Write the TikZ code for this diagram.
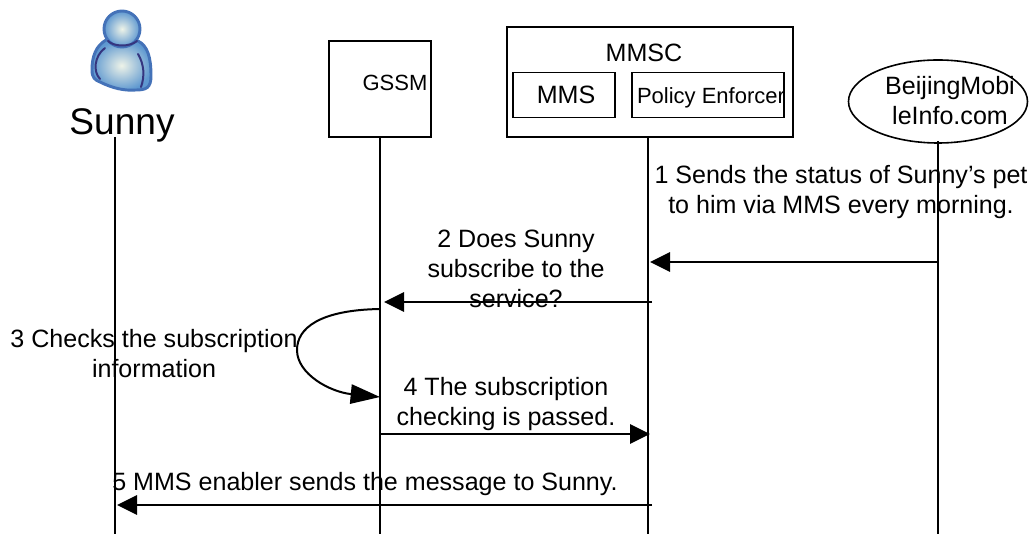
\documentclass[tikz,border=0pt]{standalone}
\usepackage{fontspec}
\setmainfont{Liberation Sans}
\usetikzlibrary{arrows.meta,shapes.geometric}
\definecolor{personedge}{HTML}{4472B8}
\definecolor{personfill}{HTML}{5E98D0}
\definecolor{personglow}{HTML}{EEF3E8}
\definecolor{personline}{HTML}{35357F}
\tikzset{
    lifeline/.style={black, line width=1.5pt},
    msg/.style={black, line width=1.5pt, -{Triangle[length=15pt,width=14.5pt]}},
    actorbox/.style={draw=black, line width=1.2pt, inner sep=0pt},
    lbl/.style={font=\fontsize{18.8pt}{22.5pt}\selectfont, align=center, inner sep=0pt, text=black},
    personpart/.style={draw=personedge, line width=2.2pt, inner color=personglow, outer color=personfill},
    personcrease/.style={draw=personline, line width=1.5pt, line cap=round}
}
\begin{document}
\begin{tikzpicture}[x=0.75pt, y=-0.75pt]
    \useasboundingbox (0,0) rectangle (1029,534);

    \path[personpart] (106,40) .. controls (96,46) and (92,56) .. (92,70)
        .. controls (92,78) and (95,80) .. (100,82)
        .. controls (112,88) and (124,91) .. (136,90)
        .. controls (146,90) and (151,88) .. (151,76)
        .. controls (151,58) and (148,46) .. (138,41) -- cycle;
    \path[personpart] (122,29) circle (18);
    \draw[personcrease] (108,41) .. controls (114,47) and (130,47) .. (137,41);
    \draw[personcrease] (105,48) .. controls (94,56) and (93,72) .. (100,79);
    \draw[personcrease] (138,54) .. controls (144,64) and (145,76) .. (141,87);
    \node[lbl, font=\fontsize{27.8pt}{30pt}\selectfont] (sunny) at (122,125) {Sunny};

    \node[actorbox, minimum width=76.5pt, minimum height=72pt] (gssm) at (380,89) {};
    \node[actorbox, minimum width=214.5pt, minimum height=82.5pt] (mmsc) at (650,82) {};
    \node[actorbox, minimum width=76.5pt, minimum height=33.75pt] (mms) at (564,95) {};
    \node[actorbox, minimum width=114pt, minimum height=33.75pt] (policy) at (708,95) {};
    \node[actorbox, ellipse, minimum width=134.25pt, minimum height=62.25pt] (beijing) at (938,101.5) {};

    \node[lbl, font=\fontsize{16.5pt}{20pt}\selectfont] (gssmlbl) at (395,83) {GSSM};
    \node[lbl] (mmsclbl) at (644,53) {MMSC};
    \node[lbl] (mmslbl) at (566,95) {MMS};
    \node[lbl, font=\fontsize{16.5pt}{20pt}\selectfont] (policylbl) at (711,98) {Policy Enforcer};
    \node[lbl] (beijinglbl) at (950,101) {BeijingMobi\\leInfo.com};

    \coordinate (sunnytop) at (115,137);
    \coordinate (sunnyend) at (115,534);
    \coordinate (gssmend) at (380,534);
    \coordinate (mmscend) at (648,534);
    \coordinate (beijingend) at (938,534);
    \coordinate (gssmtop) at (380,137);
    \coordinate (mmsctop) at (648,137);
    \coordinate (beijingtop) at (938,141);
    \foreach \a/\b in {sunnytop/sunnyend, gssmtop/gssmend, mmsctop/mmscend, beijingtop/beijingend} {
        \draw[lifeline] (\a) -- (\b);
    }

    \coordinate (onefrom) at (938,262);
    \coordinate (oneto) at (650,262);
    \coordinate (twofrom) at (652,302);
    \coordinate (twoto) at (384,302);
    \coordinate (threefrom) at (380,309);
    \coordinate (threeto) at (380,397);
    \coordinate (fourfrom) at (380,434);
    \coordinate (fourto) at (650,434);
    \coordinate (fivefrom) at (652,505);
    \coordinate (fiveto) at (117,505);

    \draw[msg] (onefrom) -- (oneto);
    \draw[msg] (twofrom) -- (twoto);
    \draw[line width=1.5pt, black, -{Triangle[length=22pt,width=14.5pt]}] (threefrom)
        .. controls (320,310) and (297,328) .. (297,350)
        .. controls (297,374) and (330,392) .. (threeto);
    \draw[msg] (fourfrom) -- (fourto);
    \draw[msg] (fivefrom) -- (fiveto);

    \node[lbl] (onelbl) at (841,192) {1 Sends the status of Sunny’s pet\\to him via MMS every morning.};
    \node[lbl] (twolbl) at (516,269) {2 Does Sunny\\subscribe to the\\service?};
    \node[lbl] (threelbl) at (154,354) {3 Checks the subscription\\information};
    \node[lbl] (fourlbl) at (506,404) {4 The subscription\\checking is passed.};
    \node[lbl] (fivelbl) at (365,484) {5 MMS enabler sends the message to Sunny.};
\end{tikzpicture}
\end{document}
